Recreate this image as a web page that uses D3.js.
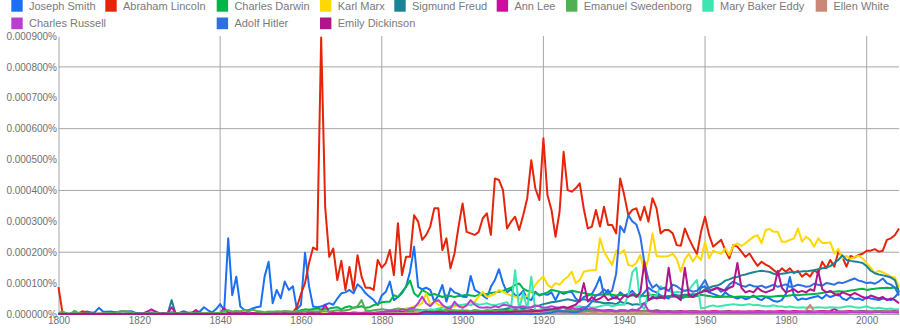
<!DOCTYPE html>
<html><head><meta charset="utf-8">
<script src="https://cdn.jsdelivr.net/npm/d3@7"></script>
<style>
html,body{margin:0;padding:0;background:#fff;}
svg{display:block;font-family:Arial,"Liberation Sans",sans-serif;}
</style></head><body>
<svg id="chart" width="900" height="330"></svg>
<script>
// Yearly frequencies, 1800-2008, in millionths of a percent (900 = 0.000900%)
const firstYear = 1800, lastYear = 2008;
const years = d3.range(firstYear, lastYear + 1);

const names = ["Joseph Smith", "Abraham Lincoln", "Charles Darwin", "Karl Marx", "Sigmund Freud",
  "Ann Lee", "Emanuel Swedenborg", "Mary Baker Eddy", "Ellen White", "Charles Russell",
  "Adolf Hitler", "Emily Dickinson"];

const colors = ["#1a6ff2", "#e5240b", "#00b548", "#ffd800", "#1a8496", "#cc0e9e", "#52b052",
  "#3de6b0", "#cc8877", "#b93ecf", "#2f6fe0", "#b0158a"];

const josephSmith = [
  0,1,1,2,2,3,6,8,5,6,
  20,8,7,8,6,7,9,8,9,4,
  3,2,3,5,4,2,3,2,6,3,
  4,9,4,5,6,8,22,12,5,16,
  32,12,245,61,121,24,13,12,18,22,
  24,121,169,35,78,51,105,78,90,15,
  30,198,90,24,22,24,30,35,30,50,
  67,70,78,67,96,85,67,56,45,29,
  60,72,105,45,55,67,88,137,218,88,
  80,85,78,40,60,94,40,83,70,65,
  56,55,123,78,70,60,50,88,110,145,
  100,70,80,60,60,75,50,45,72,60,
  65,62,70,45,72,65,70,72,50,40,
  55,60,65,88,120,60,78,55,50,70,
  60,65,75,60,55,70,85,75,70,60,
  55,50,65,60,50,55,65,55,60,85,
  90,70,65,60,55,70,60,55,50,55,
  48,52,60,50,45,55,50,42,40,45,
  65,120,60,45,50,48,52,55,58,50,
  62,55,60,65,50,45,55,48,50,45,
  55,50,48,45,50,48,45,55,70];

const abrahamLincoln = [
  87,3,1,0,1,2,9,2,1,1,
  1,1,0,1,1,1,0,1,1,0,
  1,0,1,1,0,1,1,1,0,1,
  1,0,1,1,1,0,1,1,1,1,
  1,1,2,1,1,1,2,1,1,2,
  2,1,2,1,2,2,1,3,5,22,
  65,100,165,215,208,895,345,185,212,110,
  172,78,152,78,190,121,85,85,78,175,
  150,165,207,126,294,126,185,185,320,299,
  240,256,283,342,342,207,245,148,196,283,
  358,266,261,256,266,310,326,256,439,434,
  401,277,299,315,272,320,375,498,407,369,
  569,385,337,250,331,525,401,396,407,423,
  340,277,283,337,283,347,288,288,261,439,
  385,320,337,342,304,347,299,375,342,261,
  272,272,261,223,221,277,245,218,194,266,
  315,256,218,229,240,207,180,223,218,202,
  185,196,175,156,169,160,153,142,132,148,
  137,148,132,140,121,132,121,142,132,169,
  148,175,153,202,185,153,188,183,191,195,
  205,205,210,202,205,240,245,256,277];

const charlesDarwin = [
  0,1,0,0,1,0,0,0,0,0,
  0,0,0,1,0,0,0,0,1,0,
  0,0,1,0,0,0,0,0,0,1,
  0,0,0,0,0,0,1,1,1,1,
  2,2,2,3,2,3,3,2,3,3,
  3,3,4,3,4,4,5,4,5,8,
  12,15,14,16,18,15,17,18,20,22,
  15,22,25,20,22,25,20,22,29,32,
  38,40,40,61,55,72,88,108,67,56,
  78,70,61,65,60,55,60,58,55,58,
  60,62,60,58,62,65,65,68,70,72,
  75,80,85,94,99,82,75,72,68,62,
  65,70,78,75,72,70,72,75,73,70,
  68,65,62,60,62,63,64,62,60,62,
  60,58,60,62,60,58,60,62,60,58,
  57,58,56,58,57,56,55,57,58,62,
  60,58,56,55,56,57,56,55,56,57,
  56,55,56,57,58,57,56,57,58,59,
  58,60,62,61,62,63,64,65,66,68,
  70,72,72,74,73,74,76,78,80,82,
  78,80,82,83,84,85,84,86,82];

const karlMarx = [
  0,0,0,0,0,0,0,0,0,0,
  0,0,0,0,0,0,0,0,0,0,
  0,0,0,0,0,0,0,0,0,0,
  0,0,0,0,0,0,0,0,0,0,
  0,0,0,0,0,0,1,0,1,1,
  1,1,1,1,1,1,1,2,1,2,
  2,1,2,2,2,3,2,2,3,3,
  3,2,3,4,3,4,5,4,5,6,
  6,8,10,12,10,15,18,20,25,28,
  35,67,30,40,30,25,18,20,25,30,
  22,28,35,40,56,72,55,60,65,78,
  72,65,60,56,50,51,60,75,94,110,
  121,95,85,100,95,110,120,137,100,110,
  137,140,142,142,245,202,180,159,205,196,
  207,159,155,165,191,137,180,261,188,186,
  186,188,195,178,137,178,195,170,190,175,
  234,180,205,200,195,213,190,222,229,220,
  229,240,250,255,229,272,275,266,266,234,
  234,240,245,277,234,250,240,218,245,230,
  230,232,196,210,180,188,178,185,188,180,
  164,150,132,140,135,128,121,118,88];

const sigmundFreud = [
  0,0,0,0,0,0,0,0,0,0,
  0,0,0,0,0,0,0,0,0,0,
  0,0,0,0,0,0,0,0,45,0,
  0,0,0,0,0,0,0,0,0,0,
  0,0,0,0,0,0,0,0,0,0,
  0,0,0,0,0,0,0,0,0,0,
  0,0,0,0,0,0,0,0,0,0,
  0,0,0,0,0,0,0,0,0,0,
  1,1,1,2,1,2,2,2,3,3,
  3,3,4,3,4,4,5,5,4,5,
  5,5,6,7,6,8,8,10,12,14,
  15,18,20,22,20,18,20,22,25,28,
  32,35,38,40,42,45,48,45,42,45,
  48,45,42,40,38,35,36,35,32,40,
  35,35,30,32,30,35,45,50,55,52,
  55,56,58,60,60,62,62,64,65,70,
  80,85,90,92,98,108,112,118,120,125,
  128,132,135,138,140,138,136,130,128,130,
  132,135,135,136,138,138,140,142,145,148,
  150,155,165,175,190,175,172,170,168,165,
  155,140,132,128,125,122,118,110,70];

const annLee = [
  0,0,1,0,0,1,0,0,1,0,
  0,1,0,0,1,0,0,1,0,0,
  1,2,8,15,8,2,1,2,22,3,
  1,2,1,3,13,3,1,2,1,2,
  3,19,5,2,3,2,4,2,3,2,
  2,3,2,4,3,2,3,2,3,4,
  3,2,4,3,5,8,29,6,4,3,
  3,4,3,5,4,3,5,4,3,5,
  6,5,7,6,8,7,6,8,9,7,
  8,9,10,8,9,10,12,9,10,8,
  9,10,8,12,10,9,11,10,12,10,
  11,12,10,13,11,12,10,14,12,11,
  10,12,11,13,12,10,14,12,11,13,
  15,12,10,14,12,11,13,12,10,12,
  11,10,12,11,10,9,11,10,12,10,
  9,10,8,9,10,8,9,10,9,8,
  9,8,10,9,8,9,10,8,9,8,
  8,9,8,10,9,8,9,8,9,10,
  9,8,10,9,8,10,9,8,9,10,
  9,10,16,9,8,9,10,8,9,10,
  9,8,9,10,9,8,9,10,8];

const emanuelSwedenborg = [
  3,8,2,1,10,3,2,1,2,1,
  2,1,2,3,2,8,10,8,6,2,
  2,1,3,2,3,2,1,2,3,2,
  3,2,2,3,2,3,2,3,2,3,
  4,10,12,8,10,9,12,8,14,10,
  8,6,8,7,9,8,10,9,7,8,
  9,8,10,9,8,10,9,8,10,12,
  10,12,14,20,25,45,12,10,12,14,
  15,14,12,15,18,16,14,12,15,14,
  12,14,13,12,14,12,11,13,12,11,
  12,11,10,12,11,10,12,11,10,12,
  11,10,12,11,10,11,12,10,11,10,
  10,9,11,10,9,10,11,9,10,9,
  9,10,9,8,9,10,9,8,9,8,
  8,9,8,7,8,9,8,7,8,7,
  7,8,7,8,7,6,7,8,7,6,
  7,6,7,6,7,8,7,6,7,6,
  6,7,6,7,6,5,6,7,6,5,
  6,5,6,5,6,5,6,5,6,7,
  6,7,6,8,7,6,7,8,7,8,
  8,7,8,9,8,9,8,7,6];

const maryBakerEddy = [
  0,0,0,0,0,0,0,0,0,0,
  0,0,0,0,0,0,0,0,0,0,
  0,0,0,0,0,0,0,0,0,0,
  0,0,0,0,0,0,0,0,0,0,
  0,0,0,0,0,0,0,0,0,0,
  0,0,0,0,0,0,0,0,0,0,
  0,0,0,0,0,0,0,0,0,0,
  0,0,0,0,0,0,0,0,0,0,
  1,1,2,2,3,3,4,5,6,8,
  10,12,15,14,18,20,22,25,30,28,
  30,32,28,35,30,32,35,30,28,32,
  35,38,20,142,15,70,15,121,10,15,
  18,20,15,18,20,22,18,20,22,25,
  22,25,20,22,25,28,30,25,28,30,
  30,60,135,150,30,15,70,55,60,90,
  80,75,70,72,70,75,80,95,110,18,
  20,25,28,24,26,28,30,32,30,28,
  30,32,28,30,27,25,26,28,25,24,
  22,24,22,20,22,20,22,20,22,21,
  20,22,21,20,22,24,25,22,20,22,
  25,20,18,20,18,16,18,15,15];

const ellenWhite = [
  0,0,0,0,0,0,0,0,0,0,
  0,0,0,0,0,0,0,0,0,0,
  0,0,0,0,0,0,0,0,0,0,
  0,0,0,0,0,0,0,0,0,0,
  0,0,0,0,0,0,0,0,0,0,
  0,0,0,0,0,0,0,0,0,0,
  0,0,0,0,1,0,0,1,0,1,
  1,0,1,1,2,1,1,2,1,2,
  2,3,2,3,2,3,3,2,3,3,
  3,2,3,3,2,3,3,2,3,2,
  3,3,2,3,3,4,3,3,4,3,
  4,3,4,5,3,4,3,4,3,4,
  3,4,3,3,4,3,3,4,3,3,
  3,2,3,3,2,3,3,2,3,2,
  2,3,2,2,3,2,2,3,2,3,
  2,3,2,3,2,3,3,2,3,2,
  3,2,3,3,2,3,3,3,2,3,
  3,3,4,3,3,4,3,4,4,3,
  4,4,5,4,6,12,30,8,5,4,
  5,4,5,4,5,6,5,5,6,5,
  6,5,6,7,6,8,7,6,6];

const charlesRussell = [
  0,0,0,0,0,0,0,0,0,0,
  0,0,0,0,0,0,0,0,0,0,
  0,0,0,0,0,0,0,0,0,0,
  0,0,0,0,0,0,0,0,0,0,
  0,0,0,0,0,1,0,0,0,0,
  0,0,0,0,1,0,0,0,0,0,
  0,0,1,0,0,0,0,1,0,0,
  1,0,0,1,0,1,0,1,1,2,
  5,8,10,12,10,15,12,18,20,35,
  56,35,25,40,45,30,20,18,40,25,
  20,28,45,30,22,20,22,20,25,22,
  30,28,25,20,22,25,20,22,28,25,
  20,22,25,22,20,24,18,20,15,18,
  22,15,18,15,12,10,12,10,8,10,
  12,10,15,12,20,35,10,8,7,6,
  6,7,6,5,6,7,6,5,6,6,
  5,6,5,6,6,5,6,5,6,5,
  6,5,6,5,6,6,5,6,5,6,
  5,6,5,6,6,5,6,5,6,6,
  5,6,6,5,6,5,6,6,5,6,
  6,5,6,6,5,6,5,6,5];

const adolfHitler = [
  0,0,0,0,0,0,0,0,0,0,
  0,0,0,0,0,0,0,0,0,0,
  0,0,0,0,0,0,0,0,0,0,
  0,0,0,0,0,0,0,0,0,0,
  0,0,0,0,0,0,0,0,0,0,
  0,0,0,0,0,0,0,0,0,0,
  0,0,0,0,0,0,0,0,0,0,
  0,0,0,0,0,0,0,0,0,0,
  0,0,0,0,0,0,0,0,0,0,
  0,0,0,0,0,0,0,0,0,0,
  0,0,0,0,0,0,0,0,0,0,
  0,0,0,0,0,0,0,0,0,0,
  2,3,4,8,10,8,8,6,6,8,
  15,25,40,60,65,80,68,75,130,285,
  265,320,300,290,250,165,110,85,95,80,
  85,75,95,90,80,75,78,72,75,90,
  110,80,78,85,72,80,95,105,98,92,
  88,95,90,88,92,85,90,95,88,92,
  96,88,90,95,92,88,90,98,95,92,
  100,98,95,102,100,105,110,115,108,105,
  100,102,98,105,115,100,95,85,60];

const emilyDickinson = [
  0,0,0,0,0,0,0,0,0,0,
  0,0,0,0,0,0,0,0,0,0,
  0,0,0,0,0,0,0,0,0,0,
  0,0,0,0,0,0,0,0,0,0,
  0,0,0,0,0,0,0,0,0,0,
  0,0,0,0,0,0,0,0,0,0,
  0,0,0,0,0,0,0,0,0,0,
  0,0,0,0,0,0,0,0,0,0,
  0,0,0,0,0,0,0,0,0,0,
  5,8,6,5,6,5,4,5,4,5,
  4,5,4,5,5,6,5,6,5,6,
  6,7,6,8,7,8,9,8,10,10,
  12,14,15,18,20,22,20,25,30,45,
  100,40,55,45,50,60,45,50,55,45,
  60,55,65,55,70,170,45,55,50,55,
  50,150,60,55,45,150,60,55,65,70,
  75,72,80,85,80,75,85,90,165,85,
  70,75,70,85,75,70,75,80,140,85,
  70,75,80,70,75,70,80,75,140,80,
  70,75,65,60,70,65,60,68,62,55,
  50,60,55,50,55,45,50,45,35];

const seriesValues = [josephSmith, abrahamLincoln, charlesDarwin, karlMarx, sigmundFreud,
  annLee, emanuelSwedenborg, maryBakerEddy, ellenWhite, charlesRussell, adolfHitler, emilyDickinson];

const yTickValues = [0, 100, 200, 300, 400, 500, 600, 700, 800, 900];
const xTickValues = [1800, 1820, 1840, 1860, 1880, 1900, 1920, 1940, 1960, 1980, 2000];
const xGridValues = [1840, 1880, 1920, 1960, 2000];
const yGridValues = [200, 400, 600, 800];

// ---- drawing ----
const svg = d3.select("#chart");
const plot = { left: 58.5, right: 899, top: 36, bottom: 314 };

const x = d3.scaleLinear().domain([firstYear, lastYear]).range([plot.left, plot.right]);
const y = d3.scaleLinear().domain([0, 900]).range([plot.bottom, plot.top]);

const fmtPct = d => (d / 1e6).toFixed(6) + "%";
const gridColor = "#a6a6a6";
const textColor = "#707070";
const fontStack = "Arial, 'Liberation Sans', sans-serif";

// gridlines
svg.append("g").selectAll("line").data(yGridValues).join("line")
  .attr("x1", plot.left).attr("x2", plot.right)
  .attr("y1", d => y(d)).attr("y2", d => y(d))
  .attr("stroke", gridColor).attr("stroke-width", 1);
svg.append("g").selectAll("line").data(xGridValues).join("line")
  .attr("x1", d => x(d)).attr("x2", d => x(d))
  .attr("y1", plot.top).attr("y2", plot.bottom)
  .attr("stroke", gridColor).attr("stroke-width", 1);

// y axis
const yAxis = d3.axisLeft(y).tickValues(yTickValues).tickFormat(fmtPct).tickSize(0).tickPadding(1.5);
const gy = svg.append("g").attr("transform", `translate(${plot.left},0)`).call(yAxis);
gy.select(".domain").attr("stroke", gridColor);
gy.selectAll("text").attr("fill", textColor).attr("font-size", 10).attr("font-family", fontStack);

// x axis
const xAxis = d3.axisBottom(x).tickValues(xTickValues).tickFormat(d3.format("d")).tickSize(0).tickPadding(3);
const gx = svg.append("g").attr("transform", `translate(0,${plot.bottom})`).call(xAxis);
gx.select(".domain").attr("stroke", gridColor);
gx.selectAll("text").attr("fill", textColor).attr("font-size", 10).attr("font-family", fontStack);

// series lines
const line = d3.line().x((d, i) => x(years[i])).y(d => y(d));
svg.append("g").selectAll("path").data(seriesValues).join("path")
  .attr("d", d => line(d))
  .attr("fill", "none")
  .attr("stroke", (d, i) => colors[i])
  .attr("stroke-width", 2)
  .attr("stroke-linejoin", "round");

// legend: two rows, items placed in shared columns
const legendSlots = [
  [0, 11.3], [0, 105.3], [0, 216.7], [0, 320], [0, 394.3], [0, 496.7], [0, 566], [0, 702.3], [0, 815.7],
  [1, 11.3], [1, 216.7], [1, 320]
];
const rowTop = [0, 17.5];
const leg = svg.append("g").selectAll("g").data(names).join("g")
  .attr("transform", (d, i) => `translate(${legendSlots[i][1]},${rowTop[legendSlots[i][0]]})`);
leg.append("rect").attr("x", 0).attr("y", 0).attr("width", 11.4).attr("height", 11.7)
  .attr("fill", (d, i) => colors[i]);
leg.append("text").attr("x", 17.7).attr("y", 9.8).text(d => d)
  .attr("fill", "#7a7a7a").attr("font-size", 11).attr("font-family", fontStack);
</script></body></html>
